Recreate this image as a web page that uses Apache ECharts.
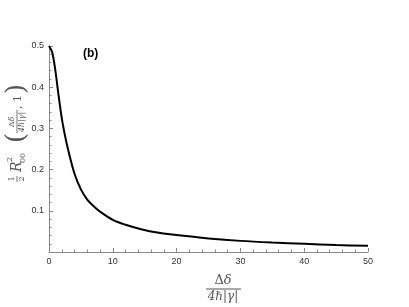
<!DOCTYPE html>
<html>
<head>
<meta charset="utf-8">
<script src="https://cdn.jsdelivr.net/npm/echarts@6/dist/echarts.min.js"></script>
<style>html,body{margin:0;padding:0;background:#fff;}#c{width:409px;height:307px;}</style>
</head>
<body>
<div id="c"></div>
<script>
// Data
const xValues = [0, 0.5, 1, 1.5, 2, 2.5, 3, 4, 5, 6, 7, 8, 10, 12, 14, 16, 20, 25, 30, 35, 40, 45, 50];
const yValues = [0.5, 0.485, 0.44, 0.38, 0.325, 0.283, 0.248, 0.19, 0.152, 0.127, 0.111, 0.098, 0.078, 0.066, 0.057, 0.05, 0.041, 0.033, 0.027, 0.023, 0.020, 0.017, 0.015];
const xTicks = [0, 10, 20, 30, 40, 50];
const yTicks = [0, 0.1, 0.2, 0.3, 0.4, 0.5];
const panelLabel = '(b)';

const chart = echarts.init(document.getElementById('c'), null, {renderer: 'canvas'});
const axisGrey = '#8a8a8a';
const labelColor = '#333';
const mathColor = '#555';
const serif = '"DejaVu Serif", "Liberation Serif", serif';

const points = xValues.map((x, i) => [x, yValues[i]]);

function deltaText(size) {
  return {
    text: '{u|Δ}{i|δ}',
    rich: {
      u: {font: size + 'px ' + serif, fill: mathColor},
      i: {font: 'italic ' + size + 'px ' + serif, fill: mathColor}
    }
  };
}

const option = {
  animation: false,
  backgroundColor: '#fff',
  grid: {left: 49, right: 41, top: 46, bottom: 55, containLabel: false},
  xAxis: {
    type: 'value', min: xTicks[0], max: xTicks[xTicks.length - 1], interval: 10,
    axisLine: {show: true, onZero: false, lineStyle: {color: axisGrey, width: 1}},
    axisTick: {show: true, inside: true, length: 4, lineStyle: {color: axisGrey}},
    minorTick: {show: true, splitNumber: 5, length: 2.5, lineStyle: {color: axisGrey}},
    splitLine: {show: false},
    axisLabel: {color: labelColor, fontSize: 9, fontFamily: 'Liberation Sans, Arial, sans-serif', margin: 5}
  },
  yAxis: {
    type: 'value', min: yTicks[0], max: yTicks[yTicks.length - 1], interval: 0.1,
    axisLine: {show: true, onZero: false, lineStyle: {color: axisGrey, width: 1}},
    axisTick: {show: true, inside: true, length: 4, lineStyle: {color: axisGrey}},
    minorTick: {show: true, splitNumber: 5, length: 2.5, lineStyle: {color: axisGrey}},
    splitLine: {show: false},
    axisLabel: {color: labelColor, fontSize: 9, fontFamily: 'Liberation Sans, Arial, sans-serif', margin: 5,
      formatter: v => v === 0 ? '' : v.toFixed(1)}
  },
  series: [{
    type: 'line', data: points, smooth: 0.3, showSymbol: false,
    lineStyle: {color: '#000', width: 2}
  }],
  graphic: [
    {type: 'text', left: 83, top: 48, style: {text: panelLabel, font: 'bold 12px "Liberation Sans", Arial, sans-serif', fill: '#000'}},
    // x axis title (fraction)
    {type: 'group', x: 223, y: 289, children: [
      {type: 'text', x: 0, y: -2, style: Object.assign(deltaText(13), {align: 'center', verticalAlign: 'bottom'})},
      {type: 'line', shape: {x1: -17, y1: 0, x2: 18, y2: 0}, style: {stroke: mathColor, lineWidth: 1}},
      {type: 'text', x: 0, y: 2, style: {text: '4ℏ|γ|', font: 'italic 12px ' + serif, fill: mathColor, align: 'center', verticalAlign: 'top'}}
    ]},
    // y axis title, rotated
    {type: 'group', x: 17, y: 183, rotation: Math.PI / 2, children: [
      {type: 'text', x: 4, y: -1, style: {text: '1', font: '8px ' + serif, fill: mathColor, align: 'center', verticalAlign: 'bottom'}},
      {type: 'line', shape: {x1: 1, y1: 0, x2: 7, y2: 0}, style: {stroke: mathColor, lineWidth: 0.8}},
      {type: 'text', x: 4, y: 1, style: {text: '2', font: '8px ' + serif, fill: mathColor, align: 'center', verticalAlign: 'top'}},
      {type: 'text', x: 11, y: 0, style: {text: 'R', font: 'italic 14px ' + serif, fill: mathColor, align: 'left', verticalAlign: 'middle'}},
      {type: 'text', x: 21, y: -3, style: {text: '2', font: '8px ' + serif, fill: mathColor, align: 'left', verticalAlign: 'bottom'}},
      {type: 'text', x: 20, y: 2, style: {text: '00', font: '8px ' + serif, fill: mathColor, align: 'left', verticalAlign: 'top'}},
      {type: 'text', x: 40, y: 0, style: {text: '(', font: '26px ' + serif, fill: mathColor, align: 'left', verticalAlign: 'middle'}},
      {type: 'text', x: 61, y: -1, style: Object.assign(deltaText(8), {align: 'center', verticalAlign: 'bottom'})},
      {type: 'line', shape: {x1: 50, y1: 0, x2: 73, y2: 0}, style: {stroke: mathColor, lineWidth: 0.8}},
      {type: 'text', x: 61, y: 1, style: {text: '4ℏ|γ|', font: 'italic 8px ' + serif, fill: mathColor, align: 'center', verticalAlign: 'top'}},
      {type: 'text', x: 74, y: 1, style: {text: ', 1', font: '11px ' + serif, fill: mathColor, align: 'left', verticalAlign: 'middle'}},
      {type: 'text', x: 89, y: 0, style: {text: ')', font: '26px ' + serif, fill: mathColor, align: 'left', verticalAlign: 'middle'}}
    ]}
  ]
};
chart.setOption(option);
</script>
</body>
</html>
